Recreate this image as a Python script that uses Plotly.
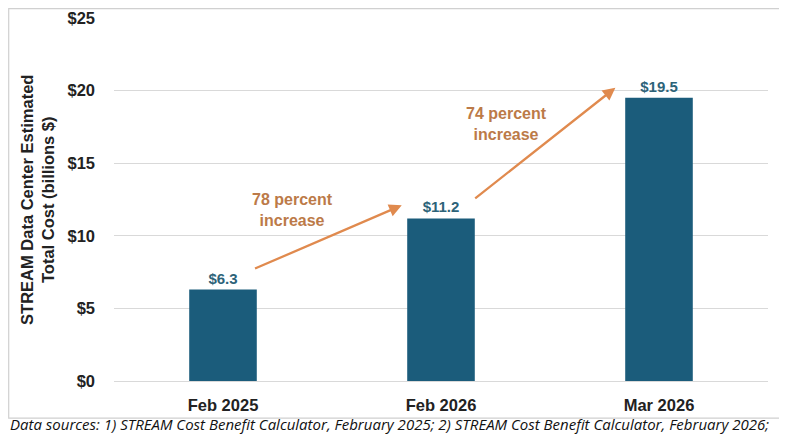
import plotly.graph_objects as go

categories = ["Feb 2025", "Feb 2026", "Mar 2026"]
values = [6.3, 11.2, 19.5]
value_labels = ["$6.3", "$11.2", "$19.5"]
y_ticks = [0, 5, 10, 15, 20, 25]
y_tick_labels = ["$0", "$5", "$10", "$15", "$20", "$25"]
increase_labels = ["78 percent<br>increase", "74 percent<br>increase"]

BAR = "#1B5C7B"
LABEL = "#2D6379"
ORANGE_TXT = "#BC7A48"
ARROW = "#E08A4E"

fig = go.Figure()
fig.add_trace(go.Bar(
    x=[0, 1, 2], y=values, width=0.31, marker=dict(color=BAR, line=dict(width=0)),
    text=value_labels, textposition="outside", cliponaxis=False,
    textfont=dict(family="Liberation Sans", size=15, color=LABEL, weight="bold"),
    hoverinfo="skip", showlegend=False,
))

# arrows (tail -> head) in data coordinates
arrows = [((0.14, 7.7), (0.82, 12.1)), ((1.15, 12.5), (1.80, 20.2))]
for (x0, y0), (x1, y1) in arrows:
    fig.add_annotation(x=x1, y=y1, ax=x0, ay=y0, xref="x", yref="y", axref="x", ayref="y",
                       showarrow=True, arrowhead=2, arrowsize=1.1, arrowwidth=2.3,
                       arrowcolor=ARROW, text="")

label_pos = [(0.32, 11.78), (1.30, 17.7)]
for (lx, ly), t in zip(label_pos, increase_labels):
    fig.add_annotation(x=lx, y=ly, xref="x", yref="y", text="<b>" + t + "</b>", showarrow=False,
                       font=dict(family="Liberation Sans", size=16, color=ORANGE_TXT),
                       align="center")

# y-axis title (two lines)
fig.add_annotation(x=-0.150, y=0.5, xref="paper", yref="paper", textangle=-90,
                   text="<b>STREAM Data Center Estimated<br>Total Cost (billions $)</b>",
                   showarrow=False, align="center",
                   font=dict(family="Liberation Sans", size=16.5, color="#222222"))

# caption
fig.add_annotation(x=-0.162, y=-0.118, xref="paper", yref="paper", xanchor="left", yanchor="middle",
                   text="<i>Data sources: 1) STREAM Cost Benefit Calculator, February 2025; 2) STREAM Cost Benefit Calculator, February 2026;</i>",
                   showarrow=False, font=dict(family="Open Sans", size=15, color="#111111"))

# frame
fig.add_shape(type="rect", xref="paper", yref="paper", x0=-0.161, x1=1.0245, y0=-0.102, y1=1.026,
              line=dict(color="#D0D0D0", width=1.2), fillcolor="rgba(0,0,0,0)", layer="below")

fig.update_layout(
    width=787, height=443,
    margin=dict(l=106, r=27, t=10, b=70),
    paper_bgcolor="white", plot_bgcolor="white",
    xaxis=dict(range=[-0.5, 2.5], tickvals=[0, 1, 2], ticktext=categories,
               showgrid=False, zeroline=False, showline=False, ticks="", automargin=False,
               ticklabelstandoff=12,
               tickfont=dict(family="Liberation Sans", size=16.5, color="#222222", weight="bold")),
    yaxis=dict(range=[0, 25], tickvals=y_ticks, ticktext=y_tick_labels,
               showgrid=True, gridcolor="#D9D9D9", gridwidth=1.3, zeroline=True,
               zerolinecolor="#D9D9D9", zerolinewidth=1.3, showline=False, ticks="",
               ticklen=0, ticklabelstandoff=18, automargin=False,
               tickfont=dict(family="Liberation Sans", size=16.5, color="#222222", weight="bold")),
    bargap=0.69,
)

fig.write_html("out.html")
